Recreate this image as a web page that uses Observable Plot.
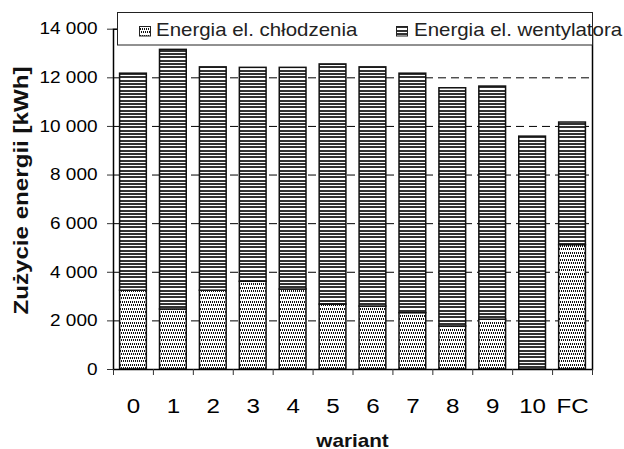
<!DOCTYPE html>
<html>
<head>
<meta charset="utf-8">
<script src="https://cdn.jsdelivr.net/npm/d3@7"></script>
<script src="https://cdn.jsdelivr.net/npm/@observablehq/plot@0.6"></script>
<style>
  body { margin: 0; background: #fff; }
  #wrap { position: relative; width: 624px; height: 449px; font-family: "Liberation Sans", Arial, sans-serif; }
  #legend { position: absolute; left: 0; top: 0; overflow: visible; }
</style>
</head>
<body>
<div id="wrap"></div>
<script>
// ---- data ----
const cats = ["0", "1", "2", "3", "4", "5", "6", "7", "8", "9", "10", "FC"];
const cooling = [3240, 2470, 3240, 3610, 3290, 2670, 2590, 2320, 1770, 2050, 0, 5120];
const fan = [8930, 10680, 9190, 8800, 9120, 9880, 9840, 9850, 9800, 9590, 9580, 5040];
const yTicks = [0, 2000, 4000, 6000, 8000, 10000, 12000, 14000];
const seriesNames = ["Energia el. chłodzenia", "Energia el. wentylatora"];
const xTitle = "wariant";
const yTitle = "Zużycie energii [kWh]";

const rows = cats.map((c, i) => ({ cat: c, cool: cooling[i], top: cooling[i] + fan[i] }));

// ---- layout ----
const W = 624, H = 449, ML = 113, MR = 32, MT = 28.7, MB = 80;
const step = (W - ML - MR) / cats.length;
const SX = 1.15; // horizontal text stretch of the original
const fmt = d => d3.format(",")(d).replace(/,/g, " ");

const chart = Plot.plot({
  width: W, height: H,
  marginLeft: ML, marginRight: MR, marginTop: MT, marginBottom: MB,
  style: { fontFamily: "'Liberation Sans', Arial, sans-serif", fontSize: "16.5px", background: "white", color: "#000", overflow: "visible" },
  x: { type: "band", domain: cats, paddingInner: 0.33, paddingOuter: 0.165, round: false, axis: null },
  y: { domain: [0, 14000], axis: null },
  marks: [
    Plot.gridY(yTicks.filter(v => v > 0 && v < 14000), { stroke: "#000", strokeOpacity: 1, strokeWidth: 1, strokeDasharray: "8,5" }),
    Plot.barY(rows, { x: "cat", y1: 0, y2: "cool", fill: "url(#dots)", stroke: "#111", strokeWidth: 1.5 }),
    Plot.barY(rows, { x: "cat", y1: "cool", y2: "top", fill: "url(#stripes)", stroke: "#111", strokeWidth: 1.5 }),
    Plot.frame({ stroke: "#000", strokeWidth: 1.5 }),
    Plot.axisY({ ticks: yTicks, tickSize: 6, tickPadding: 10, tickFormat: fmt, label: null, stroke: "#333" }),
    Plot.axisX({ tickSize: 6, tickFormat: () => "", dx: -step / 2, label: null, stroke: "#333" }),
    Plot.axisX(["FC"], { tickSize: 6, tickFormat: () => "", dx: step / 2, label: null, stroke: "#333" }),
    Plot.axisX({ tickSize: 0, tickPadding: 29, label: null, fontSize: 21 })
  ]
});

const svg = d3.select(chart);

// patterns
const defs = svg.insert("defs", ":first-child");
const pS = defs.append("pattern").attr("id", "stripes").attr("patternUnits", "userSpaceOnUse")
  .attr("width", 4).attr("height", 10).attr("shape-rendering", "crispEdges");
pS.append("rect").attr("width", 4).attr("height", 10).attr("fill", "#fff");
[0, 3, 6].forEach(y => pS.append("rect").attr("y", y).attr("width", 4).attr("height", 2).attr("fill", "#333"));

const pD = defs.append("pattern").attr("id", "dots").attr("patternUnits", "userSpaceOnUse")
  .attr("width", 2).attr("height", 7).attr("shape-rendering", "crispEdges");
pD.append("rect").attr("width", 2).attr("height", 7).attr("fill", "#fff");
pD.append("rect").attr("x", 0).attr("y", 0).attr("width", 1).attr("height", 2).attr("fill", "#111");
pD.append("rect").attr("x", 1).attr("y", 3).attr("width", 1).attr("height", 2).attr("fill", "#111");

// stretch existing texts horizontally
svg.selectAll("text").each(function () {
  const t = this.getAttribute("transform") || "";
  this.setAttribute("transform", (t + ` scale(${SX},1)`).trim());
  const x = this.getAttribute("x");
  if (x != null && !isNaN(+x)) this.setAttribute("x", +x / SX);
});

// axis titles
svg.append("text")
  .attr("transform", `translate(28,190.5) rotate(-90) scale(${SX},1)`)
  .attr("text-anchor", "middle").attr("font-weight", "bold").attr("font-size", 21)
  .attr("fill", "#111").text(yTitle);
svg.append("text")
  .attr("transform", `translate(352.5,446.5) scale(${SX},1)`)
  .attr("text-anchor", "middle").attr("font-weight", "bold").attr("font-size", 18)
  .attr("fill", "#111").text(xTitle);

const wrap = document.getElementById("wrap");
wrap.appendChild(chart);

// legend overlay
const leg = d3.select(wrap).append("svg").attr("id", "legend")
  .attr("width", W).attr("height", 60)
  .style("font-family", "'Liberation Sans', Arial, sans-serif");
leg.append("rect").attr("x", 117.5).attr("y", 12.5).attr("width", 475).attr("height", 32.5)
  .attr("fill", "#fff").attr("stroke", "#222").attr("stroke-width", 1);
const items = [
  { sx: 139.5, tx: 156, fill: "url(#dots)" },
  { sx: 396.5, tx: 414, fill: "url(#stripes)" }
];
items.forEach((it, i) => {
  leg.append("rect").attr("x", it.sx).attr("y", 26.5).attr("width", 11).attr("height", 9.5)
    .attr("fill", it.fill).attr("stroke", "#222").attr("stroke-width", 1);
  leg.append("text").attr("transform", `translate(${it.tx},35.7) scale(${SX},1)`)
    .attr("font-size", 17.8).attr("fill", "#222").text(seriesNames[i]);
});
</script>
</body>
</html>
